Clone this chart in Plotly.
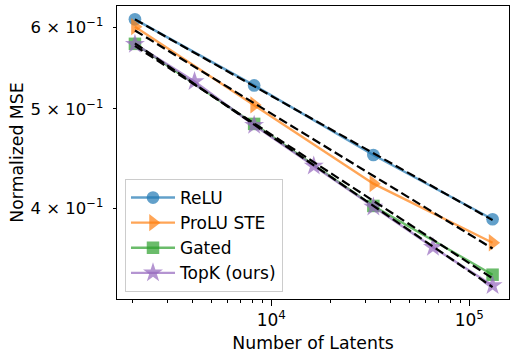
import numpy as np
import plotly.graph_objects as go

# ---- data ----
latents_4 = [2048, 8192, 32768, 131072]
latents_7 = [2048, 4096, 8192, 16384, 32768, 65536, 131072]

relu_mse = [0.611, 0.527, 0.451, 0.3906]
prolu_mse = [0.601, 0.5045, 0.423, 0.3706]
gated_mse = [0.5784, 0.4835, 0.4024, 0.3450]
topk_mse = [0.578, 0.5316, 0.482, 0.440, 0.4015, 0.3669, 0.3367]

series_names = ["ReLU", "ProLU STE", "Gated", "TopK (ours)"]
series_colors = ["31,119,180", "255,127,14", "44,160,44", "148,103,189"]
series_symbols = ["circle", "triangle-right", "square", "star"]
series_sizes = [12.7, 15, 12.5, 15]

x_ticks = [1e4, 1e5]
x_tick_labels = ["10<sup>4</sup>", "10<sup>5</sup>"]
x_minor = [2000, 3000, 4000, 5000, 6000, 7000, 8000, 9000,
           20000, 30000, 40000, 50000, 60000, 70000, 80000, 90000]
y_ticks = [0.4, 0.5, 0.6]
y_tick_labels = ["4 × 10<sup>−1</sup>", "5 × 10<sup>−1</sup>", "6 × 10<sup>−1</sup>"]

FONT = "DejaVu Sans"

fig = go.Figure()

series = [
    (latents_4, relu_mse),
    (latents_4, prolu_mse),
    (latents_4, gated_mse),
    (latents_7, topk_mse),
]

for (xs, ys), name, col, sym, sz in zip(series, series_names, series_colors,
                                       series_symbols, series_sizes):
    fig.add_trace(go.Scatter(
        x=xs, y=ys, name=name, mode="lines+markers",
        line=dict(color=f"rgba({col},0.7)", width=2.4),
        marker=dict(symbol=sym, size=sz, color=f"rgba({col},0.7)", line=dict(width=0)),
    ))

# power-law fits (least squares in log-log space)
for xs, ys in series:
    lx = np.log10(xs)
    ly = np.log10(ys)
    slope, icpt = np.polyfit(lx, ly, 1)
    ends = np.array([lx[0], lx[-1]])
    fig.add_trace(go.Scatter(
        x=10 ** ends, y=10 ** (slope * ends + icpt), mode="lines",
        line=dict(color="black", width=2.2, dash="9px,4px"),
        showlegend=False, hoverinfo="skip",
    ))

fig.update_layout(
    width=511, height=355, autosize=False,
    margin=dict(l=117, r=2, t=6, b=56, pad=0),
    paper_bgcolor="white", plot_bgcolor="white",
    font=dict(family=FONT, size=17, color="black"),
    showlegend=True,
    legend=dict(
        x=0.0204, y=0.0239, xanchor="left", yanchor="bottom",
        bgcolor="rgba(255,255,255,0.8)", bordercolor="#cccccc", borderwidth=1,
        font=dict(family=FONT, size=17, color="black"),
        tracegroupgap=0, itemwidth=44,
    ),
)

fig.update_xaxes(
    type="log", range=[3.2207, 5.2005], automargin=False,
    showgrid=False, zeroline=False,
    showline=True, linecolor="black", linewidth=1.3, mirror=True,
    tickmode="array", tickvals=x_ticks, ticktext=x_tick_labels,
    ticks="outside", ticklen=5.6, tickwidth=1.3, tickcolor="black",
    minor=dict(tickmode="array", tickvals=x_minor, ticks="outside",
               ticklen=3.2, tickwidth=1.0, tickcolor="black", showgrid=False),
    title=dict(text="Number of Latents", standoff=7,
               font=dict(family=FONT, size=17.3)),
    tickfont=dict(family=FONT, size=17),
)

fig.update_yaxes(
    type="log", range=[-0.4858, -0.2010], automargin=False,
    showgrid=False, zeroline=False,
    showline=True, linecolor="black", linewidth=1.3, mirror=True,
    tickmode="array", tickvals=y_ticks, ticktext=y_tick_labels,
    ticks="outside", ticklen=3.2, tickwidth=1.0, tickcolor="black",
    ticklabelstandoff=6,
    title=dict(text="Normalized MSE", standoff=2,
               font=dict(family=FONT, size=17.3)),
    tickfont=dict(family=FONT, size=16.5),
)

fig.write_html(
    "out.html",
    config={"responsive": False, "displayModeBar": False},
    post_script="document.body.style.margin='0';document.body.style.padding='0';",
)
